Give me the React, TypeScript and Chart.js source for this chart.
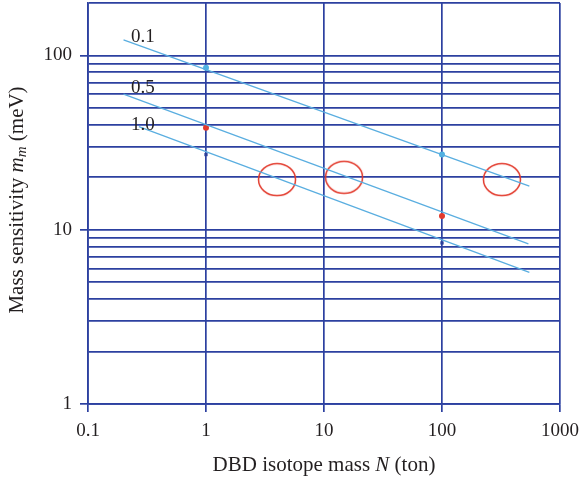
import React, { useEffect, useRef } from "react";
import { Chart, registerables } from "chart.js";

Chart.register(...registerables);

const xTicks = [0.1, 1, 10, 100, 1000];
const yTicks = [1, 2, 3, 4, 5, 6, 7, 8, 9, 10, 20, 30, 40, 50, 60, 70, 80, 90, 100, 200];
const yLabelled = [1, 10, 100];

const line01 = [{ x: 0.2, y: 123 }, { x: 550, y: 17.8 }];
const line05 = [{ x: 0.2, y: 60 }, { x: 540, y: 8.3 }];
const line10 = [{ x: 0.27, y: 39 }, { x: 550, y: 5.7 }];

const pts01 = [{ x: 1, y: 85 }, { x: 100, y: 27 }];
const pts05 = [{ x: 1, y: 38.5 }, { x: 100, y: 12.0 }];
const pts10 = [{ x: 1, y: 27 }, { x: 100, y: 8.4 }];

const ellipses = [{ x: 4.0, y: 19.4 }, { x: 14.8, y: 20 }, { x: 322, y: 19.4 }];

const curveLabels = ["0.1", "0.5", "1.0"];
const curveLabelX = [0.231, 0.231, 0.231];
const curveLabelY = [128, 65, 40];

const FONT = "'Liberation Serif', 'DejaVu Serif', serif";
const GRID = "#2c40a0";
const LINE = "#5aaee0";

export default function App() {
  const ref = useRef<HTMLCanvasElement | null>(null);

  useEffect(() => {
    document.body.style.margin = "0";
    const canvas = ref.current;
    if (!canvas) return;

    const ell = document.createElement("canvas");
    ell.width = 40;
    ell.height = 35;
    const ec = ell.getContext("2d")!;
    ec.strokeStyle = "#e23a2c";
    ec.lineWidth = 1.5;
    ec.beginPath();
    ec.ellipse(20, 17.5, 18.5, 16, 0, 0, Math.PI * 2);
    ec.stroke();

    const textPlugin = {
      id: "texts",
      afterDraw(chart: any) {
        const ctx = chart.ctx;
        const xs = chart.scales.x;
        const ys = chart.scales.y;
        const area = chart.chartArea;
        ctx.save();
        ctx.fillStyle = "#231f20";
        ctx.font = `19px ${FONT}`;
        ctx.textAlign = "left";
        ctx.textBaseline = "middle";
        curveLabels.forEach((t, i) => {
          ctx.fillText(t, xs.getPixelForValue(curveLabelX[i]), ys.getPixelForValue(curveLabelY[i]));
        });

        const drawSegs = (segs: { t: string; f: string; dy?: number }[], cx: number, cy: number) => {
          let total = 0;
          segs.forEach((s) => {
            ctx.font = s.f;
            total += ctx.measureText(s.t).width;
          });
          let x = cx - total / 2;
          ctx.textAlign = "left";
          ctx.textBaseline = "middle";
          segs.forEach((s) => {
            ctx.font = s.f;
            ctx.fillText(s.t, x, cy + (s.dy || 0));
            x += ctx.measureText(s.t).width;
          });
        };
        const n = `21px ${FONT}`;
        const it = `italic 21px ${FONT}`;
        const sub = `italic 15px ${FONT}`;
        drawSegs(
          [
            { t: "DBD isotope mass ", f: n },
            { t: "N", f: it },
            { t: " (ton)", f: n },
          ],
          (area.left + area.right) / 2,
          465
        );
        ctx.save();
        ctx.translate(17, 200);
        ctx.rotate(-Math.PI / 2);
        drawSegs(
          [
            { t: "Mass sensitivity ", f: n },
            { t: "m", f: it },
            { t: "m", f: sub, dy: 5 },
            { t: " (meV)", f: n },
          ],
          0,
          0
        );
        ctx.restore();
        ctx.restore();
      },
    };

    const lineDs = (data: any) => ({
      data,
      showLine: true,
      borderColor: LINE,
      borderWidth: 1.3,
      pointRadius: 0,
      fill: false,
    });

    const chart = new Chart(canvas, {
      type: "scatter",
      data: {
        datasets: [
          lineDs(line01),
          lineDs(line05),
          lineDs(line10),
          { data: pts01, pointRadius: 3, backgroundColor: "#4fb2e2", borderWidth: 0, pointStyle: "circle" },
          { data: pts05, pointRadius: 3, backgroundColor: "#e23a2c", borderWidth: 0, pointStyle: "circle" },
          { data: pts10, pointRadius: 2.3, backgroundColor: "#2a3e9a", borderWidth: 0, pointStyle: "rect" },
          { data: ellipses, pointStyle: ell as any, pointRadius: 18 },
        ] as any,
      },
      plugins: [textPlugin],
      options: {
        animation: false,
        responsive: false,
        events: [],
        layout: { autoPadding: false, padding: { left: 0, top: 3, right: 22, bottom: 0 } },
        plugins: { legend: { display: false }, tooltip: { enabled: false } },
        scales: {
          x: {
            type: "logarithmic",
            min: 0.1,
            max: 1000,
            afterBuildTicks: (s: any) => {
              s.ticks = xTicks.map((v) => ({ value: v }));
            },
            afterFit: (s: any) => {
              s.height = 479 - 404;
              s.paddingLeft = 0;
              s.paddingRight = 0;
            },
            ticks: {
              autoSkip: false,
              maxRotation: 0,
              padding: 8,
              color: "#231f20",
              font: { family: FONT, size: 19 },
              callback: (v: any) => String(v),
            },
            grid: { color: GRID, lineWidth: 1.7, tickLength: 8, tickColor: GRID },
            border: { color: GRID, width: 1.7 },
          },
          y: {
            type: "logarithmic",
            min: 1,
            max: 200,
            afterBuildTicks: (s: any) => {
              s.ticks = yTicks.map((v) => ({ value: v }));
            },
            afterFit: (s: any) => {
              s.width = 88;
              s.paddingTop = 0;
              s.paddingBottom = 0;
            },
            ticks: {
              autoSkip: false,
              padding: 8,
              color: "#231f20",
              font: { family: FONT, size: 19 },
              callback: (v: any) => (yLabelled.includes(Number(v)) ? String(v) : ""),
            },
            grid: {
              color: GRID,
              lineWidth: 1.7,
              tickLength: 8,
              tickColor: (c: any) => (c.tick && yLabelled.includes(c.tick.value) ? GRID : "rgba(0,0,0,0)"),
            },
            border: { color: GRID, width: 1.7 },
          },
        },
      } as any,
    });
    return () => chart.destroy();
  }, []);

  return (
    <div style={{ width: 582, height: 479, background: "#fff" }}>
      <canvas ref={ref} width={582} height={479} style={{ display: "block" }} />
    </div>
  );
}
